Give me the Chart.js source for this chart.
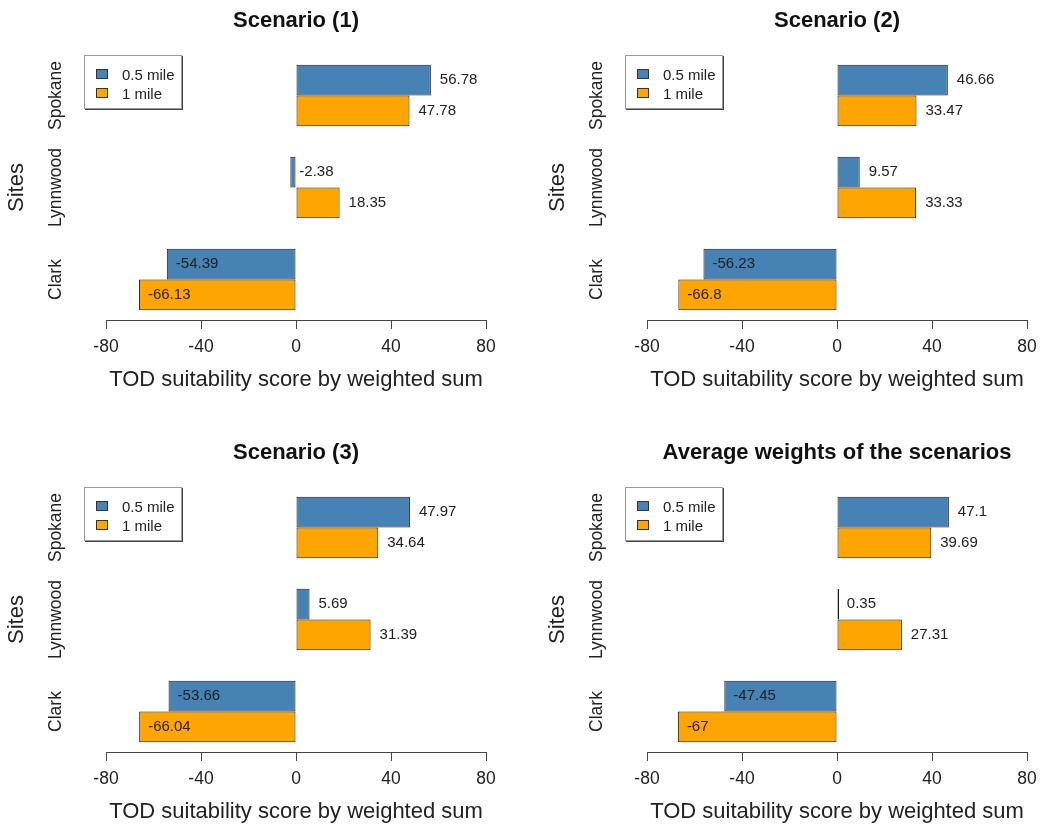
<!DOCTYPE html>
<html>
<head>
<meta charset="utf-8">
<title>TOD suitability scores</title>
<script src="https://cdn.jsdelivr.net/npm/chart.js@4.4.1/dist/chart.umd.min.js"></script>
<style>
  body { margin: 0; background: #fff; font-family: "Liberation Sans", Arial, sans-serif; }
  #wrap { position: relative; width: 1041px; height: 832px; overflow: hidden; }
  .panel { position: absolute; width: 500px; height: 400px; }
  .legend { position: absolute; left: 84px; top: 55px; width: 96px; height: 52px; border: 1px solid #999; box-shadow: 1px 1px 0 #444; font-size: 15px; color: #222; background: #fff; }
  .legend .row { position: absolute; left: 11px; height: 18px; display: flex; align-items: center; }
  .legend .sw { width: 10px; height: 8px; border: 1px solid #333; margin-right: 14px; }
</style>
</head>
<body>
<div id="wrap"></div>
<script>
// ------------------------------------------------------------
// data (sites bottom -> top, as in the R barplot)
// ------------------------------------------------------------
const sites = ['Clark', 'Lynnwood', 'Spokane'];
const seriesNames = ['0.5 mile', '1 mile'];
const seriesColors = ['#4682B4', '#FFA500'];
const xTicks = [-80, -40, 0, 40, 80];

const titles = ['Scenario (1)', 'Scenario (2)', 'Scenario (3)', 'Average weights of the scenarios'];

const halfMile1 = [-54.39, -2.38, 56.78];
const oneMile1  = [-66.13, 18.35, 47.78];

const halfMile2 = [-56.23, 9.57, 46.66];
const oneMile2  = [-66.8, 33.33, 33.47];

const halfMile3 = [-53.66, 5.69, 47.97];
const oneMile3  = [-66.04, 31.39, 34.64];

const halfMileAvg = [-47.45, 0.35, 47.1];
const oneMileAvg  = [-67, 27.31, 39.69];

const panels = [
  { title: titles[0], series: [halfMile1, oneMile1], left: 0, top: 0 },
  { title: titles[1], series: [halfMile2, oneMile2], left: 541, top: 0 },
  { title: titles[2], series: [halfMile3, oneMile3], left: 0, top: 432 },
  { title: titles[3], series: [halfMileAvg, oneMileAvg], left: 541, top: 432 }
];

// R barplot(beside=TRUE, space=c(0,1)): group i sits at 3*i + 2, range padded by 4%
const groupPos = sites.map((s, i) => 3 * i + 2);
const yLo = groupPos[0] - 1, yHi = groupPos[groupPos.length - 1] + 1;
const yPad = (yHi - yLo) * 0.04;

Chart.defaults.font.family = '"Liberation Sans", Arial, sans-serif';
Chart.defaults.color = '#222';

// value labels right of each bar end (pos = 4 in R)
const valueLabels = {
  id: 'valueLabels',
  afterDatasetsDraw(chart) {
    const ctx = chart.ctx;
    ctx.save();
    ctx.font = '15px "Liberation Sans", Arial, sans-serif';
    ctx.fillStyle = '#222';
    ctx.textAlign = 'left';
    ctx.textBaseline = 'middle';
    chart.data.datasets.forEach((ds, di) => {
      chart.getDatasetMeta(di).data.forEach((bar, i) => {
        const x0 = chart.scales.x.getPixelForValue(ds.data[i].x);
        ctx.fillText(String(ds.data[i].x), x0 + 9, bar.y);
      });
    });
    ctx.restore();
  }
};

const wrap = document.getElementById('wrap');

panels.forEach(p => {
  const box = document.createElement('div');
  box.className = 'panel';
  box.style.left = p.left + 'px';
  box.style.top = p.top + 'px';
  box.innerHTML = '<canvas width="500" height="400"></canvas>' +
    '<div class="legend">' + seriesNames.map((n, i) =>
      `<div class="row" style="top:${9 + i * 19}px"><span class="sw" style="background:${seriesColors[i]}"></span>${n}</div>`
    ).join('') + '</div>';
  wrap.appendChild(box);

  new Chart(box.querySelector('canvas'), {
    type: 'bar',
    data: {
      datasets: p.series.map((vals, si) => ({
        label: seriesNames[si],
        data: vals.map((v, i) => ({ x: v, y: groupPos[i] })),
        backgroundColor: seriesColors[si],
        borderColor: '#1a1a1a',
        borderWidth: 1,
        borderSkipped: false,
        minBarLength: 2,
        categoryPercentage: 2 / 3,
        barPercentage: 1
      }))
    },
    options: {
      indexAxis: 'y',
      responsive: false,
      animation: false,
      layout: { padding: { left: 0, right: 14, top: 0, bottom: 0 } },
      plugins: {
        legend: { display: false },
        tooltip: { enabled: false },
        title: {
          display: true, text: p.title, fullSize: false, color: '#111',
          font: { size: 22, weight: 'bold' }, padding: { top: 7.3, bottom: 21.3 }
        }
      },
      scales: {
        x: {
          type: 'linear', min: xTicks[0], max: xTicks[xTicks.length - 1],
          afterBuildTicks: s => { s.ticks = xTicks.map(v => ({ value: v })); },
          ticks: { color: '#222', font: { size: 17.5 }, padding: 8 },
          grid: { drawOnChartArea: false, drawTicks: true, tickLength: 9, color: '#444' },
          border: { display: true, color: '#444', width: 1 },
          title: {
            display: true, text: 'TOD suitability score by weighted sum', color: '#222',
            font: { size: 22 }, padding: { top: 0, bottom: 7 }
          },
          afterFit: s => { s.height = 80; s.paddingLeft = 0; s.paddingRight = 0; }
        },
        y: {
          type: 'linear', offset: false, min: yLo - yPad, max: yHi + yPad,
          afterBuildTicks: s => { s.ticks = groupPos.map(v => ({ value: v })); },
          ticks: {
            callback: (v, i) => sites[i], minRotation: 90, maxRotation: 90,
            crossAlign: 'center', padding: 10, color: '#222', font: { size: 17.5 }
          },
          grid: { display: false, drawTicks: false, offset: false },
          border: { display: false },
          title: { display: true, text: 'Sites', color: '#222', font: { size: 22 }, padding: { top: 4 } },
          afterFit: s => { s.width = 106; }
        }
      }
    },
    plugins: [valueLabels]
  });
});
</script>
</body>
</html>
